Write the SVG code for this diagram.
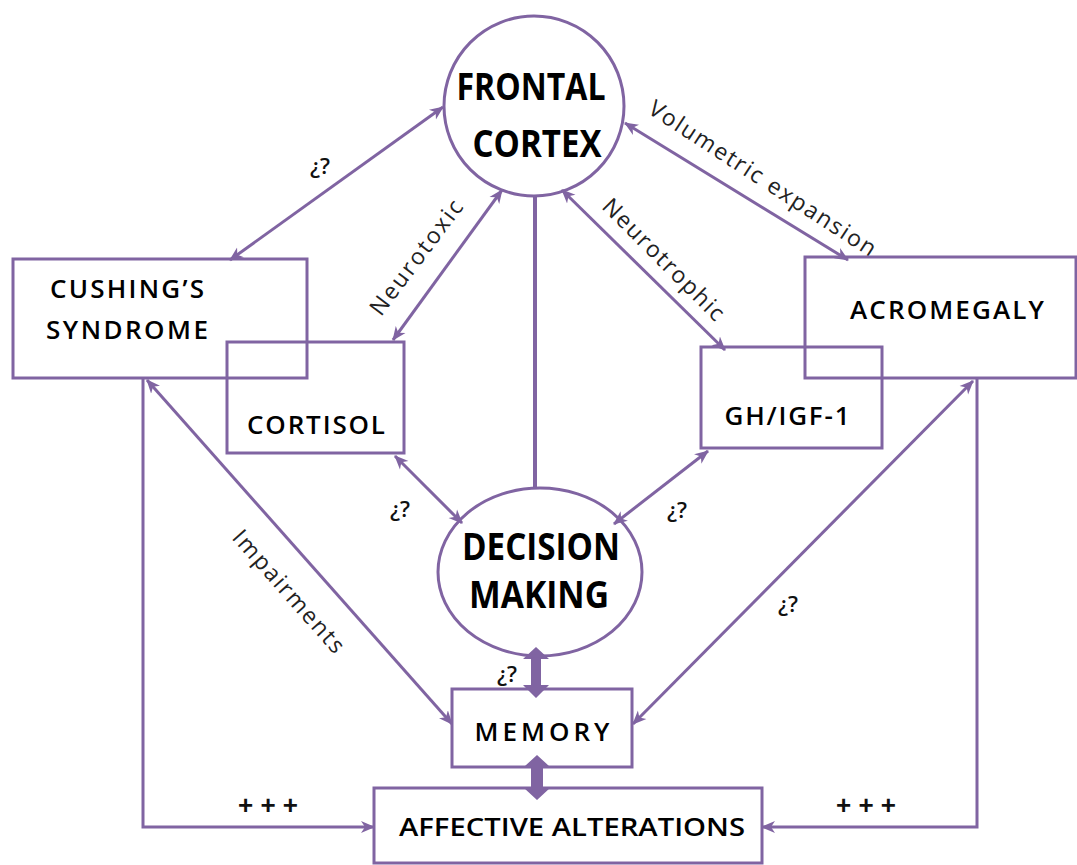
<svg xmlns="http://www.w3.org/2000/svg" width="1077" height="865" viewBox="0 0 1077 865">
<style>
.box{fill:none;stroke:#8064a2;stroke-width:3}
.ln{fill:none;stroke:#8064a2;stroke-width:3}
.thick{fill:#8064a2;stroke:none}
.node{font-family:"Open Sans","Liberation Sans",sans-serif;font-size:26px;font-weight:600;fill:#000;text-anchor:middle}
.big{font-family:"Open Sans","Liberation Sans",sans-serif;font-size:37px;font-weight:bold;fill:#000;text-anchor:middle}
.lbl{font-family:"Open Sans","Liberation Sans",sans-serif;font-size:23px;fill:#222;text-anchor:middle}
.q{font-family:"Open Sans","Liberation Sans",sans-serif;font-size:22px;font-weight:600;fill:#111;text-anchor:middle}
.p{font-family:"Liberation Sans",sans-serif;font-size:26px;font-weight:bold;fill:#111;text-anchor:middle}
</style>
<defs>
<marker id="ah" markerUnits="userSpaceOnUse" markerWidth="16" markerHeight="14" refX="13" refY="6" orient="auto-start-reverse" viewBox="0 0 16 12">
<path d="M0,0 L14,6 L0,12 L4,6 Z" fill="#8064a2"/>
</marker>
</defs>
<rect width="1077" height="865" fill="#fff"/>

<g id="connectors">
<line class="ln" x1="230" y1="260" x2="443" y2="107" marker-start="url(#ah)" marker-end="url(#ah)"/>
<line class="ln" x1="393" y1="340" x2="502" y2="190" marker-start="url(#ah)" marker-end="url(#ah)"/>
<line class="ln" x1="562" y1="190" x2="725" y2="350" marker-start="url(#ah)" marker-end="url(#ah)"/>
<line class="ln" x1="625" y1="123" x2="848" y2="260" marker-start="url(#ah)" marker-end="url(#ah)"/>
<line class="ln" x1="395" y1="456" x2="462" y2="523" marker-start="url(#ah)" marker-end="url(#ah)"/>
<line class="ln" x1="708" y1="451" x2="614" y2="524" marker-start="url(#ah)" marker-end="url(#ah)"/>
<line class="ln" x1="147" y1="380" x2="452" y2="724" marker-start="url(#ah)" marker-end="url(#ah)"/>
<line class="ln" x1="973" y1="381" x2="633" y2="724" marker-start="url(#ah)" marker-end="url(#ah)"/>
<polyline class="ln" points="143,378 143,827 374,827" marker-end="url(#ah)"/>
<polyline class="ln" points="977,378 977,827 762,827" marker-end="url(#ah)"/>
<line class="ln" x1="535" y1="197" x2="535" y2="488" style="stroke-width:4"/>
<polygon class="thick" points="536,647 549,659 541,659 541,685 549,685 536,698 523,685 531,685 531,659 523,659"/>
<polygon class="thick" points="537,755 549,766 543,766 543,788 550,788 537,800 524,788 531,788 531,766 525,766"/>
<text class="q" x="320" y="174">¿?</text>
<text class="lbl" transform="translate(417,258) rotate(-53)" dy="7" textLength="138" lengthAdjust="spacing">Neurotoxic</text>
<text class="lbl" transform="translate(663,260) rotate(45)" dy="7" textLength="162" lengthAdjust="spacing">Neurotrophic</text>
<text class="lbl" transform="translate(762,179) rotate(33)" dy="7" textLength="266" lengthAdjust="spacing">Volumetric  expansion</text>
<text class="lbl" transform="translate(288,592) rotate(48.5)" dy="7" textLength="156" lengthAdjust="spacing">Impairments</text>
<text class="q" x="400" y="517">¿?</text>
<text class="q" x="677" y="518">¿?</text>
<text class="q" x="788" y="612">¿?</text>
<text class="q" x="507" y="682">¿?</text>
<text class="p" x="268" y="814" textLength="60" lengthAdjust="spacing">+++</text>
<text class="p" x="866" y="814" textLength="60" lengthAdjust="spacing">+++</text>
</g>

<g id="frontal-cortex">
<circle class="box" cx="534" cy="106" r="90"/>
<text class="big" x="531" y="100" textLength="149" lengthAdjust="spacingAndGlyphs">FRONTAL</text>
<text class="big" x="537" y="157" textLength="129" lengthAdjust="spacingAndGlyphs">CORTEX</text>
</g>

<g id="cushings-syndrome">
<rect class="box" x="13" y="259" width="294" height="119"/>
<text class="node" x="127" y="298" textLength="154" lengthAdjust="spacing">CUSHING’S</text>
<text class="node" x="127" y="339" textLength="162" lengthAdjust="spacing">SYNDROME</text>
</g>

<g id="cortisol">
<rect class="box" x="227" y="342" width="177" height="111"/>
<text class="node" x="316" y="434" textLength="138" lengthAdjust="spacing">CORTISOL</text>
</g>

<g id="acromegaly">
<rect class="box" x="805" y="257" width="271" height="121"/>
<text class="node" x="947" y="319" textLength="194" lengthAdjust="spacing">ACROMEGALY</text>
</g>

<g id="gh-igf1">
<rect class="box" x="701" y="347" width="181" height="101"/>
<text class="node" x="787" y="425" textLength="125" lengthAdjust="spacing">GH/IGF-1</text>
</g>

<g id="decision-making">
<ellipse class="box" cx="540" cy="572" rx="102" ry="84"/>
<text class="big" x="541" y="560" textLength="158" lengthAdjust="spacingAndGlyphs">DECISION</text>
<text class="big" x="539" y="608" textLength="140" lengthAdjust="spacingAndGlyphs">MAKING</text>
</g>

<g id="memory">
<rect class="box" x="452" y="689" width="180" height="78"/>
<text class="node" x="542" y="741" textLength="135" lengthAdjust="spacing">MEMORY</text>
</g>

<g id="affective-alterations">
<rect class="box" x="374" y="788" width="388" height="75"/>
<text class="node" x="572" y="836" textLength="346" lengthAdjust="spacingAndGlyphs">AFFECTIVE ALTERATIONS</text>
</g>
</svg>
